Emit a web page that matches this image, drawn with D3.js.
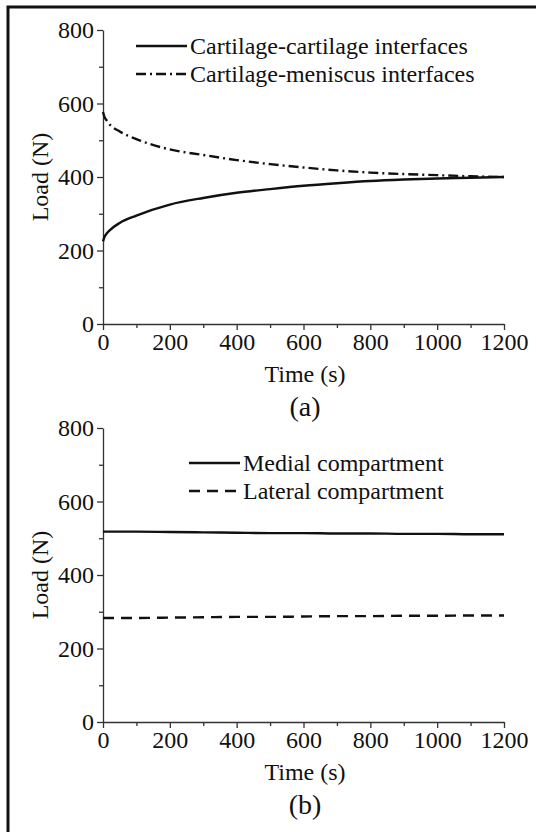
<!DOCTYPE html>
<html>
<head>
<meta charset="utf-8">
<script src="https://cdn.jsdelivr.net/npm/d3@7"></script>
<style>
  body { margin: 0; background: #fff; }
</style>
</head>
<body>
<div id="fig"></div>
<script>
// panel (a) data
var timeA = [0, 5, 10, 20, 50, 100, 200, 300, 400, 500, 600, 700, 800, 900, 1000, 1100, 1200];
var cartCart = [225, 238, 245, 255, 275, 295, 325, 343, 357, 367, 376, 383, 389, 393, 396, 398, 400];
var cartMen = [577, 562, 555, 543, 524, 503, 475, 460, 446, 435, 426, 418, 412, 408, 405, 402, 400];

// panel (b) data
var timeB = [0, 100, 200, 300, 400, 500, 600, 700, 800, 900, 1000, 1100, 1200];
var medial = [518, 518, 517, 516, 515, 514, 514, 513, 513, 512, 512, 511, 511];
var lateral = [283, 283, 284, 285, 286, 286, 287, 288, 288, 289, 289, 290, 290];

var xTicks = [0, 200, 400, 600, 800, 1000, 1200];
var yTicks = [0, 200, 400, 600, 800];

var serif = "'Liberation Serif'";

var svg = d3.select('#fig').append('svg')
    .attr('width', 536)
    .attr('height', 832);

// figure frame
svg.append('rect')
    .attr('x', 8).attr('y', 7)
    .attr('width', 700).attr('height', 900)
    .attr('fill', 'none')
    .attr('stroke', '#111')
    .attr('stroke-width', 3);

var xscale = d3.scaleLinear().domain([0, 1200]).range([103, 504]);

function drawPanel(top, label, series, legendY, legendX) {
    var yscale = d3.scaleLinear().domain([0, 800]).range([top + 294, top]);
    var g = svg.append('g');

    // minor ticks
    var ax = g.append('g').attr('transform', 'translate(0,' + (top + 294) + ')')
        .call(d3.axisBottom(xscale).tickValues(d3.range(100, 1200, 200)).tickSize(4).tickFormat(''));
    ax.select('.domain').remove();
    var ay = g.append('g').attr('transform', 'translate(103,0)')
        .call(d3.axisLeft(yscale).tickValues([100, 300, 500, 700]).tickSize(4).tickFormat(''));
    ay.select('.domain').remove();

    g.append('g').attr('transform', 'translate(0,' + (top + 294) + ')')
        .call(d3.axisBottom(xscale).tickValues(xTicks).tickFormat(d3.format('d'))
            .tickSize(6).tickSizeOuter(0).tickPadding(3));

    g.append('g').attr('transform', 'translate(103,0)')
        .call(d3.axisLeft(yscale).tickValues(yTicks).tickFormat(d3.format('d'))
            .tickSize(6).tickSizeOuter(0).tickPadding(3));

    g.selectAll('.tick text')
        .style('font-family', serif)
        .style('font-size', '24px')
        .attr('fill', '#111');
    g.selectAll('.domain, .tick line').attr('stroke', '#333').attr('stroke-width', 1.3);

    g.append('text')
        .attr('x', 305).attr('y', top + 352)
        .attr('text-anchor', 'middle')
        .style('font-family', serif)
        .style('font-size', '24px')
        .attr('fill', '#111')
        .text('Time (s)');

    g.append('text')
        .attr('x', 305).attr('y', top + 386)
        .attr('text-anchor', 'middle')
        .style('font-family', serif)
        .style('font-size', '28px')
        .attr('fill', '#111')
        .text(label);

    g.append('text')
        .attr('transform', 'translate(48,' + (top + 147) + ') rotate(-90)')
        .attr('text-anchor', 'middle')
        .style('font-family', serif)
        .style('font-size', '24px')
        .attr('fill', '#111')
        .text('Load (N)');

    var line = d3.line()
        .x(d => xscale(d[0]))
        .y(d => yscale(d[1]))
        .curve(d3.curveMonotoneX);

    series.forEach(function(s, i) {
        g.append('path')
            .datum(s.time.map((t, j) => [t, s.values[j]]))
            .attr('d', line)
            .attr('fill', 'none')
            .attr('stroke', '#111')
            .attr('stroke-width', 2.4)
            .attr('stroke-dasharray', s.dash);

        var ly = legendY + i * 28;
        g.append('line')
            .attr('x1', legendX).attr('x2', legendX + 51)
            .attr('y1', ly).attr('y2', ly)
            .attr('stroke', '#111')
            .attr('stroke-width', 2.4)
            .attr('stroke-dasharray', s.dash);
        g.append('text')
            .attr('x', legendX + 54).attr('y', ly)
            .attr('dy', '0.33em')
            .style('font-family', serif)
            .style('font-size', '24px')
            .attr('fill', '#111')
            .text(s.name);
    });
}

drawPanel(30, '(a)', [
    {name: 'Cartilage-cartilage interfaces', time: timeA, values: cartCart, dash: null},
    {name: 'Cartilage-meniscus interfaces', time: timeA, values: cartMen, dash: '10,4,2,4'}
], 46, 136);

drawPanel(428, '(b)', [
    {name: 'Medial compartment', time: timeB, values: medial, dash: null},
    {name: 'Lateral compartment', time: timeB, values: lateral, dash: '11,7'}
], 463, 189);
</script>
</body>
</html>
